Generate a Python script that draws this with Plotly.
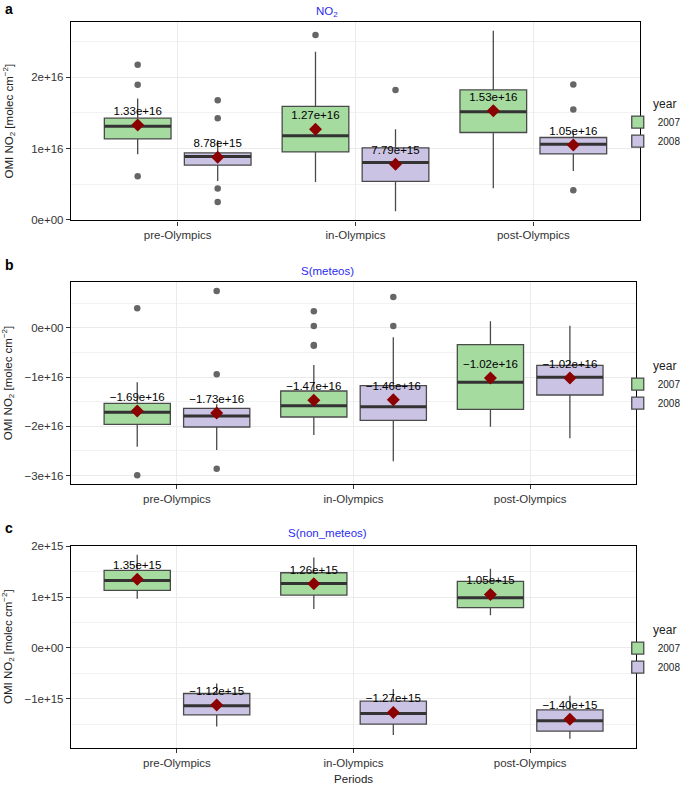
import plotly.graph_objects as go

periods = ["pre-Olympics", "in-Olympics", "post-Olympics"]
years = ["2007", "2008"]

# ---- Panel a: NO2 ----
no2_q1_2007 = [1.135e16, 0.952e16, 1.225e16]
no2_med_2007 = [1.314e16, 1.178e16, 1.516e16]
no2_q3_2007 = [1.427e16, 1.592e16, 1.825e16]
no2_lo_2007 = [0.92e16, 0.53e16, 0.441e16]
no2_hi_2007 = [1.704e16, 2.36e16, 2.656e16]
no2_mean_2007 = [1.33e16, 1.27e16, 1.53e16]
no2_out_2007 = [[2.178e16, 1.896e16, 0.61e16], [2.596e16], []]

no2_q1_2008 = [0.765e16, 0.539e16, 0.924e16]
no2_med_2008 = [0.887e16, 0.803e16, 1.061e16]
no2_q3_2008 = [0.938e16, 1.009e16, 1.155e16]
no2_lo_2008 = [0.544e16, 0.117e16, 0.685e16]
no2_hi_2008 = [1.117e16, 1.272e16, 1.225e16]
no2_mean_2008 = [8.78e15, 7.79e15, 1.05e16]
no2_out_2008 = [[1.68e16, 1.427e16, 0.437e16, 0.248e16], [1.825e16], [1.9e16, 1.549e16, 0.413e16]]

# ---- Panel b: S(meteos) ----
met_q1_2007 = [-1.96e16, -1.811e16, -1.656e16]
met_med_2007 = [-1.716e16, -1.582e16, -1.108e16]
met_q3_2007 = [-1.534e16, -1.284e16, -0.345e16]
met_lo_2007 = [-2.414e16, -2.177e16, -2.008e16]
met_hi_2007 = [-1.108e16, -0.757e16, 0.13e16]
met_mean_2007 = [-1.69e16, -1.47e16, -1.02e16]
met_out_2007 = [[0.393e16, -2.994e16], [0.332e16, 0.034e16, -0.35e16, -0.365e16], []]

met_q1_2008 = [-2.014e16, -1.879e16, -1.365e16]
met_med_2008 = [-1.791e16, -1.602e16, -1.006e16]
met_q3_2008 = [-1.635e16, -1.176e16, -0.763e16]
met_lo_2008 = [-2.48e16, -2.71e16, -2.244e16]
met_hi_2008 = [-1.554e16, -0.195e16, 0.04e16]
met_mean_2008 = [-1.73e16, -1.46e16, -1.02e16]
met_out_2008 = [[0.744e16, -0.946e16, -2.86e16], [0.623e16, 0.034e16], []]

# ---- Panel c: S(non_meteos) ----
non_q1_2007 = [1.131e15, 1.039e15, 0.792e15]
non_med_2007 = [1.327e15, 1.268e15, 0.988e15]
non_q3_2007 = [1.524e15, 1.478e15, 1.308e15]
non_lo_2007 = [0.968e15, 0.765e15, 0.641e15]
non_hi_2007 = [1.831e15, 1.778e15, 1.557e15]
non_mean_2007 = [1.35e15, 1.26e15, 1.05e15]
non_out_2007 = [[], [], []]

non_q1_2008 = [-1.313e15, -1.496e15, -1.633e15]
non_med_2008 = [-1.137e15, -1.287e15, -1.431e15]
non_q3_2008 = [-0.895e15, -1.045e15, -1.216e15]
non_lo_2008 = [-1.542e15, -1.712e15, -1.784e15]
non_hi_2008 = [-0.699e15, -0.804e15, -0.941e15]
non_mean_2008 = [-1.12e15, -1.27e15, -1.40e15]
non_out_2008 = [[], [], []]

panel_titles = ["NO<sub>2</sub>", "S(meteos)", "S(non_meteos)"]
panel_letters = ["a", "b", "c"]

# tick labels
a_tickvals = [0, 1e16, 2e16]
a_ticktext = ["0e+00", "1e+16", "2e+16"]
a_minor = [0.5e16, 1.5e16, 2.5e16]
b_tickvals = [0, -1e16, -2e16, -3e16]
b_ticktext = ["0e+00", "\u22121e+16", "\u22122e+16", "\u22123e+16"]
b_minor = [0.5e16, -0.5e16, -1.5e16, -2.5e16]
c_tickvals = [2e15, 1e15, 0, -1e15]
c_ticktext = ["2e+15", "1e+15", "0e+00", "\u22121e+15"]
c_minor = [1.5e15, 0.5e15, -0.5e15, -1.5e15]

# ---- style / layout constants ----
W, H = 698, 785
ML, MR, MT, MB = 71, 39, 22, 37
PW, PH = W - ML - MR, H - MT - MB
FONT = "Liberation Sans, Arial, Helvetica, sans-serif"
FILL = {"2007": "#a6dba0", "2008": "#cbc3e3"}
DODGE = {"2007": -0.225, "2008": 0.225}
BOX_W = 0.375
NBSP = "\u00a0"


def px_x(x):
    return (x - ML) / PW


def px_y(y):
    return (H - MB - y) / PH


def fmt(v):
    s = f"{v:.2e}"
    return s.replace("-", "\u2212", 1) if s.startswith("-") else s


panels = [
    dict(
        data={
            "2007": (no2_q1_2007, no2_med_2007, no2_q3_2007, no2_lo_2007, no2_hi_2007, no2_mean_2007, no2_out_2007),
            "2008": (no2_q1_2008, no2_med_2008, no2_q3_2008, no2_lo_2008, no2_hi_2008, no2_mean_2008, no2_out_2008),
        },
        yrange=[-0.01e16, 2.78e16], tv=a_tickvals, tt=a_ticktext, minor=a_minor,
        xdom=[0, 1.0], ydom=[px_y(220.3), px_y(22)], standoff=15,
        title_y=12, letter_y=9, legend_y=124,
    ),
    dict(
        data={
            "2007": (met_q1_2007, met_med_2007, met_q3_2007, met_lo_2007, met_hi_2007, met_mean_2007, met_out_2007),
            "2008": (met_q1_2008, met_med_2008, met_q3_2008, met_lo_2008, met_hi_2008, met_mean_2008, met_out_2008),
        },
        yrange=[-3.17e16, 0.927e16], tv=b_tickvals, tt=b_ticktext, minor=b_minor,
        xdom=[0, px_x(655)], ydom=[px_y(484), px_y(282)], standoff=9,
        title_y=271, letter_y=265, legend_y=386,
    ),
    dict(
        data={
            "2007": (non_q1_2007, non_med_2007, non_q3_2007, non_lo_2007, non_hi_2007, non_mean_2007, non_out_2007),
            "2008": (non_q1_2008, non_med_2008, non_q3_2008, non_lo_2008, non_hi_2008, non_mean_2008, non_out_2008),
        },
        yrange=[-1.96e15, 2.01e15], tv=c_tickvals, tt=c_ticktext, minor=c_minor,
        xdom=[0, px_x(655)], ydom=[px_y(747.7), px_y(545.7)], standoff=9,
        title_y=533, letter_y=528, legend_y=650,
    ),
]

fig = go.Figure()
layout = {}
annotations = []
base = list(range(len(periods)))

for k, p in enumerate(panels):
    sfx = "" if k == 0 else str(k + 1)
    xref, yref = "x" + sfx, "y" + sfx
    leg = "legend" + sfx
    for yr in years:
        q1, med, q3, lo, hi, mean, outs = p["data"][yr]
        pos = [b + DODGE[yr] for b in base]
        # box
        fig.add_trace(go.Box(
            x=pos, q1=q1, median=med, q3=q3, lowerfence=lo, upperfence=hi,
            width=BOX_W, whiskerwidth=0, fillcolor=FILL[yr],
            line=dict(color="#4a4a4a", width=1.3), boxpoints=False,
            name=yr, legend=leg, showlegend=True,
            xaxis=xref, yaxis=yref, hoverinfo="skip",
        ))
        # thick median line
        mx, my = [], []
        for ps, m in zip(pos, med):
            mx += [ps - BOX_W / 2, ps + BOX_W / 2, None]
            my += [m, m, None]
        fig.add_trace(go.Scatter(
            x=mx, y=my, mode="lines", line=dict(color="#333333", width=3),
            showlegend=False, xaxis=xref, yaxis=yref, hoverinfo="skip",
        ))
        # outliers
        ox, oy = [], []
        for ps, ol in zip(pos, outs):
            ox += [ps] * len(ol)
            oy += ol
        if ox:
            fig.add_trace(go.Scatter(
                x=ox, y=oy, mode="markers",
                marker=dict(color="#666666", size=6.5),
                showlegend=False, xaxis=xref, yaxis=yref,
            ))
        # means + labels
        fig.add_trace(go.Scatter(
            x=pos, y=mean, mode="markers+text",
            marker=dict(symbol="diamond", color="#8b0000", size=10),
            text=[fmt(v) for v in mean], textposition="top center",
            textfont=dict(family=FONT, size=11.5, color="black"),
            showlegend=False, xaxis=xref, yaxis=yref,
        ))

    layout["xaxis" + sfx] = dict(
        domain=p["xdom"], anchor=yref, range=[-0.6, 2.6],
        tickvals=base, ticktext=periods, showgrid=True, gridcolor="#ebebeb", gridwidth=1,
        zeroline=False, showline=True, linecolor="black", linewidth=1.4, mirror=True,
        ticks="outside", ticklen=4, tickcolor="#333", tickfont=dict(family=FONT, size=11.5, color="#333"),
        automargin=False,
    )
    if k == 2:
        layout["xaxis" + sfx]["title"] = dict(text="Periods", font=dict(family=FONT, size=11.5, color="#222"), standoff=9)
    layout["yaxis" + sfx] = dict(
        domain=p["ydom"], anchor=xref, range=p["yrange"],
        tickvals=p["tv"], ticktext=p["tt"], showgrid=True, gridcolor="#ebebeb", gridwidth=1,
        minor=dict(tickvals=p["minor"], showgrid=True, gridcolor="#f2f2f2", gridwidth=0.6, ticks=""),
        zeroline=False, showline=True, linecolor="black", linewidth=1.4, mirror=True,
        ticks="outside", ticklen=4, tickcolor="#333", tickfont=dict(family=FONT, size=11.5, color="#333"),
        title=dict(text="OMI NO<sub>2</sub> [molec cm<sup>\u22122</sup>]", font=dict(family=FONT, size=11.5, color="#222"),
                   standoff=p["standoff"]),
        automargin=False,
    )
    layout[leg] = dict(
        x=px_x(636), xanchor="left", y=px_y(p["legend_y"]), yanchor="middle",
        title=dict(text=NBSP * 10 + "year", font=dict(family=FONT, size=12, color="#222")),
        font=dict(family=FONT, size=10, color="#222"), bgcolor="rgba(0,0,0,0)",
        tracegroupgap=0, itemwidth=30,
    )
    annotations.append(dict(
        text=panel_titles[k], x=px_x(336), y=px_y(p["title_y"]), xref="paper", yref="paper",
        showarrow=False, xanchor="center", yanchor="middle",
        font=dict(family=FONT, size=11.5, color="#2b2bf0"),
    ))
    annotations.append(dict(
        text="<b>" + panel_letters[k] + "</b>", x=px_x(1), y=px_y(p["letter_y"]), xref="paper", yref="paper",
        showarrow=False, xanchor="left", yanchor="middle",
        font=dict(family=FONT, size=14, color="black"),
    ))

fig.update_layout(
    width=W, height=H, margin=dict(l=ML, r=MR, t=MT, b=MB),
    paper_bgcolor="white", plot_bgcolor="white",
    boxmode="overlay", annotations=annotations,
    font=dict(family=FONT),
    **layout,
)

fig.write_html("out.html", config={"displayModeBar": False},
               post_script="document.body.style.margin='0';")
